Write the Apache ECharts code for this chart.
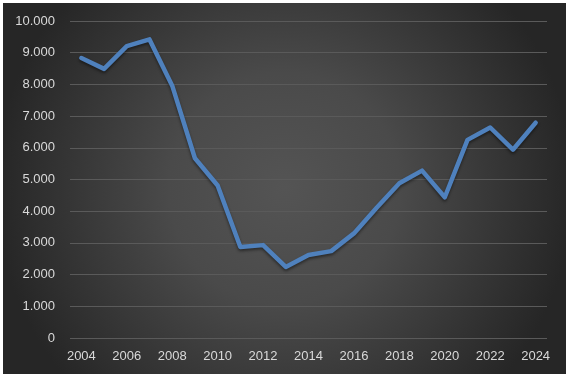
<!DOCTYPE html>
<html>
<head>
<meta charset="utf-8">
<script src="https://cdn.jsdelivr.net/npm/echarts@6/dist/echarts.min.js"></script>
<style>
    html, body { margin: 0; padding: 0; background: #fff; }
    #chart { position: absolute; left: 3px; top: 3px; width: 563px; height: 371px; }
</style>
</head>
<body>
<div id="chart"></div>
<script>
var years = ['2004','2005','2006','2007','2008','2009','2010','2011','2012','2013','2014',
             '2015','2016','2017','2018','2019','2020','2021','2022','2023','2024'];
var values = [8830, 8490, 9210, 9420, 7960, 5670, 4810, 2870, 2930, 2240, 2620,
              2740, 3300, 4110, 4880, 5280, 4440, 6250, 6640, 5940, 6790];
var yTicks = { min: 0, max: 10000, step: 1000 };

// 10000 -> "10.000"
function fmtThousands(v) {
    return String(v).replace(/\B(?=(\d{3})+(?!\d))/g, '.');
}

var chart = echarts.init(document.getElementById('chart'));
var labelColor = '#d9d9d9', labelSize = 13, labelFamily = 'Liberation Sans';

chart.setOption({
    animation: false,
    backgroundColor: {
        type: 'radial', x: 0.5, y: 0.5, r: 0.78,
        colorStops: [
            { offset: 0, color: '#545454' },
            { offset: 0.4, color: '#4a4a4a' },
            { offset: 1, color: '#262626' }
        ]
    },
    grid: { left: 67, right: 19, top: 18, bottom: 36 },
    xAxis: {
        type: 'category',
        data: years,
        boundaryGap: true,
        axisLine: { show: false },
        axisTick: { show: false },
        axisLabel: {
            color: labelColor, fontSize: labelSize, fontFamily: labelFamily,
            margin: 12,
            interval: 1
        }
    },
    yAxis: {
        type: 'value',
        min: yTicks.min,
        max: yTicks.max,
        interval: yTicks.step,
        axisLine: { show: false },
        axisTick: { show: false },
        splitLine: { lineStyle: { color: '#5a5a5a', width: 1 } },
        axisLabel: {
            color: labelColor, fontSize: labelSize, fontFamily: labelFamily,
            margin: 15,
            formatter: fmtThousands
        }
    },
    series: [{
        type: 'line',
        data: values,
        symbol: 'none',
        lineStyle: {
            color: '#4f81bd', width: 4.5, cap: 'round', join: 'round',
            shadowColor: 'rgba(0,0,0,0.45)', shadowBlur: 3, shadowOffsetY: 2
        }
    }]
});
</script>
</body>
</html>
